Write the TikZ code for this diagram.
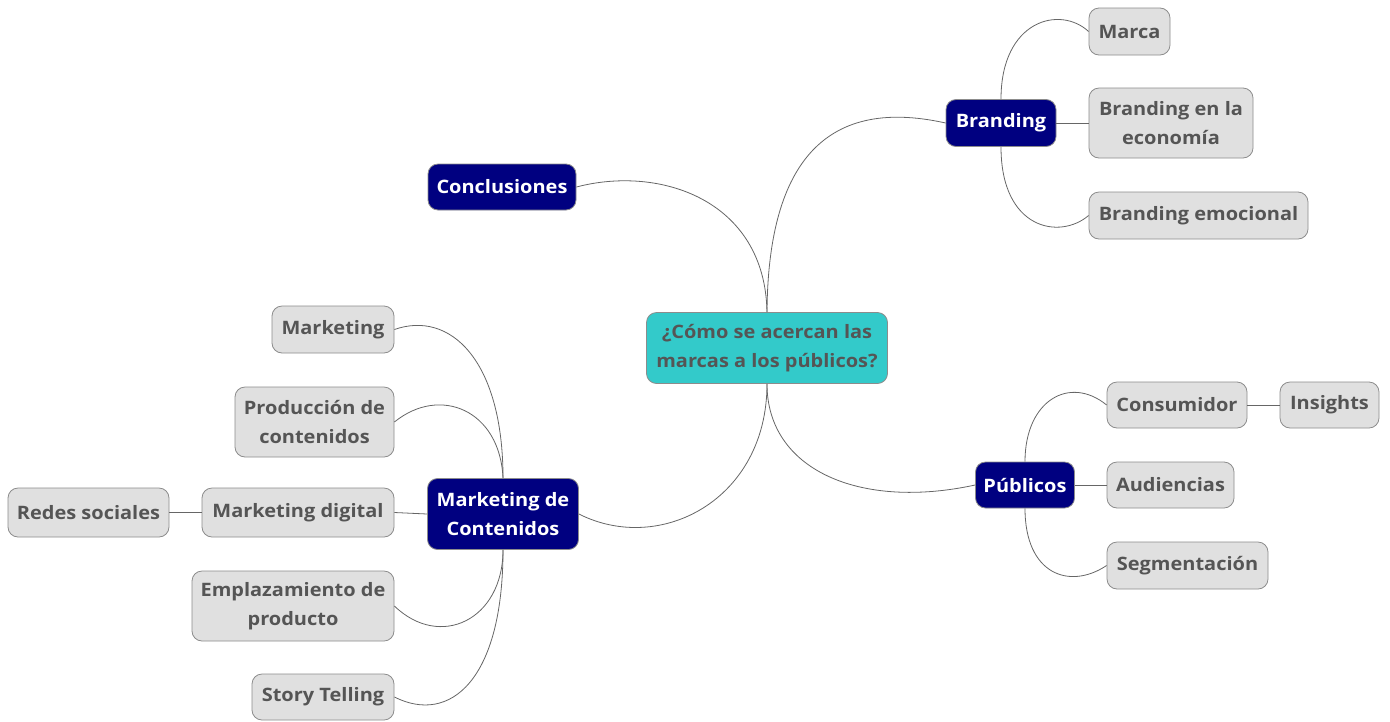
\documentclass[tikz,border=0pt]{standalone}
\usepackage{fontspec}
\setmainfont{Open Sans}[FakeStretch=1.08]
\definecolor{navy}{HTML}{000080}
\definecolor{teal2}{HTML}{33CACA}
\definecolor{leaffill}{HTML}{E0E0E0}
\definecolor{leafline}{HTML}{8C8C8C}
\definecolor{txtgray}{HTML}{555555}
\definecolor{conn}{HTML}{666666}
\tikzset{
  base/.style={rounded corners=10pt, inner sep=0pt, align=center,
    font=\fontsize{18.5}{28.5}\selectfont\bfseries, line width=0.8pt},
  central/.style={base, fill=teal2, draw=leafline, text=txtgray},
  topic/.style={base, fill=navy, draw=leafline, text=white},
  leaf/.style={base, fill=leaffill, draw=leafline, text=txtgray},
  link/.style={draw=conn, line width=0.8pt},
}
\begin{document}
\begin{tikzpicture}[x=1pt,y=-1pt]
\useasboundingbox (0,0) rectangle (1390,721);
% nodes
\node[central, minimum width=241pt, minimum height=71pt] (c) at (767,348) {¿Cómo se acercan las\\marcas a los públicos?};
\node[topic, minimum width=148pt, minimum height=46pt] (concl) at (502,187) {Conclusiones};
\node[topic, minimum width=110pt, minimum height=47pt] (brand) at (1001,123) {Branding};
\node[topic, minimum width=99pt, minimum height=46pt] (pub) at (1025,485) {Públicos};
\node[topic, minimum width=151pt, minimum height=71pt] (mdc) at (503,514) {Marketing de\\Contenidos};
\node[leaf, minimum width=81pt, minimum height=47pt] (marca) at (1129.5,31.5) {Marca};
\node[leaf, minimum width=164pt, minimum height=70pt] (econ) at (1171,123) {Branding en la\\economía};
\node[leaf, minimum width=219pt, minimum height=47pt] (emoc) at (1198.5,215.5) {Branding emocional};
\node[leaf, minimum width=140pt, minimum height=46pt] (cons) at (1177,405) {Consumidor};
\node[leaf, minimum width=99pt, minimum height=46pt] (ins) at (1329.5,405) {Insights};
\node[leaf, minimum width=127pt, minimum height=46pt] (aud) at (1170.5,485) {Audiencias};
\node[leaf, minimum width=161pt, minimum height=47pt] (seg) at (1187.5,565.5) {Segmentación};
\node[leaf, minimum width=122pt, minimum height=47pt] (mkt) at (333,329.5) {Marketing};
\node[leaf, minimum width=159pt, minimum height=70pt] (prod) at (314.5,422) {Producción de\\contenidos};
\node[leaf, minimum width=192pt, minimum height=49pt] (mdig) at (298,512.5) {Marketing digital};
\node[leaf, minimum width=161pt, minimum height=49pt] (redes) at (88.5,512.5) {Redes sociales};
\node[leaf, minimum width=202pt, minimum height=70pt] (empl) at (293,606) {Emplazamiento de\\producto};
\node[leaf, minimum width=142pt, minimum height=46pt] (story) at (323,697) {Story Telling};
% connectors
\draw[link] (c.north) .. controls (768,170) and (820,95) .. (brand.west);
\draw[link] (concl.east) .. controls (660,165) and (765,200) .. (c.north);
\draw[link] (c.south) .. controls (767,470) and (860,510) .. (pub.west);
\draw[link] (c.south) .. controls (767,500) and (660,555) .. (mdc.east);
\draw[link] (brand.north) .. controls (1001,20) and (1060,5) .. (marca.west);
\draw[link] (brand.east) -- (econ.west);
\draw[link] (brand.south) .. controls (1001,230) and (1060,240) .. (emoc.west);
\draw[link] (pub.north) .. controls (1025,400) and (1070,375) .. (cons.west);
\draw[link] (cons.east) -- (ins.west);
\draw[link] (pub.east) -- (aud.west);
\draw[link] (pub.south) .. controls (1025,575) and (1070,590) .. (seg.west);
\draw[link] (mkt.east) .. controls (450,310) and (503,360) .. (mdc.north);
\draw[link] (prod.east) .. controls (440,385) and (500,410) .. (mdc.north);
\draw[link] (mdc.west) -- (mdig.east);
\draw[link] (mdig.west) -- (redes.east);
\draw[link] (mdc.south) .. controls (503,620) and (440,650) .. (empl.east);
\draw[link] (mdc.south) .. controls (503,680) and (450,725) .. (story.east);
\end{tikzpicture}
\end{document}
